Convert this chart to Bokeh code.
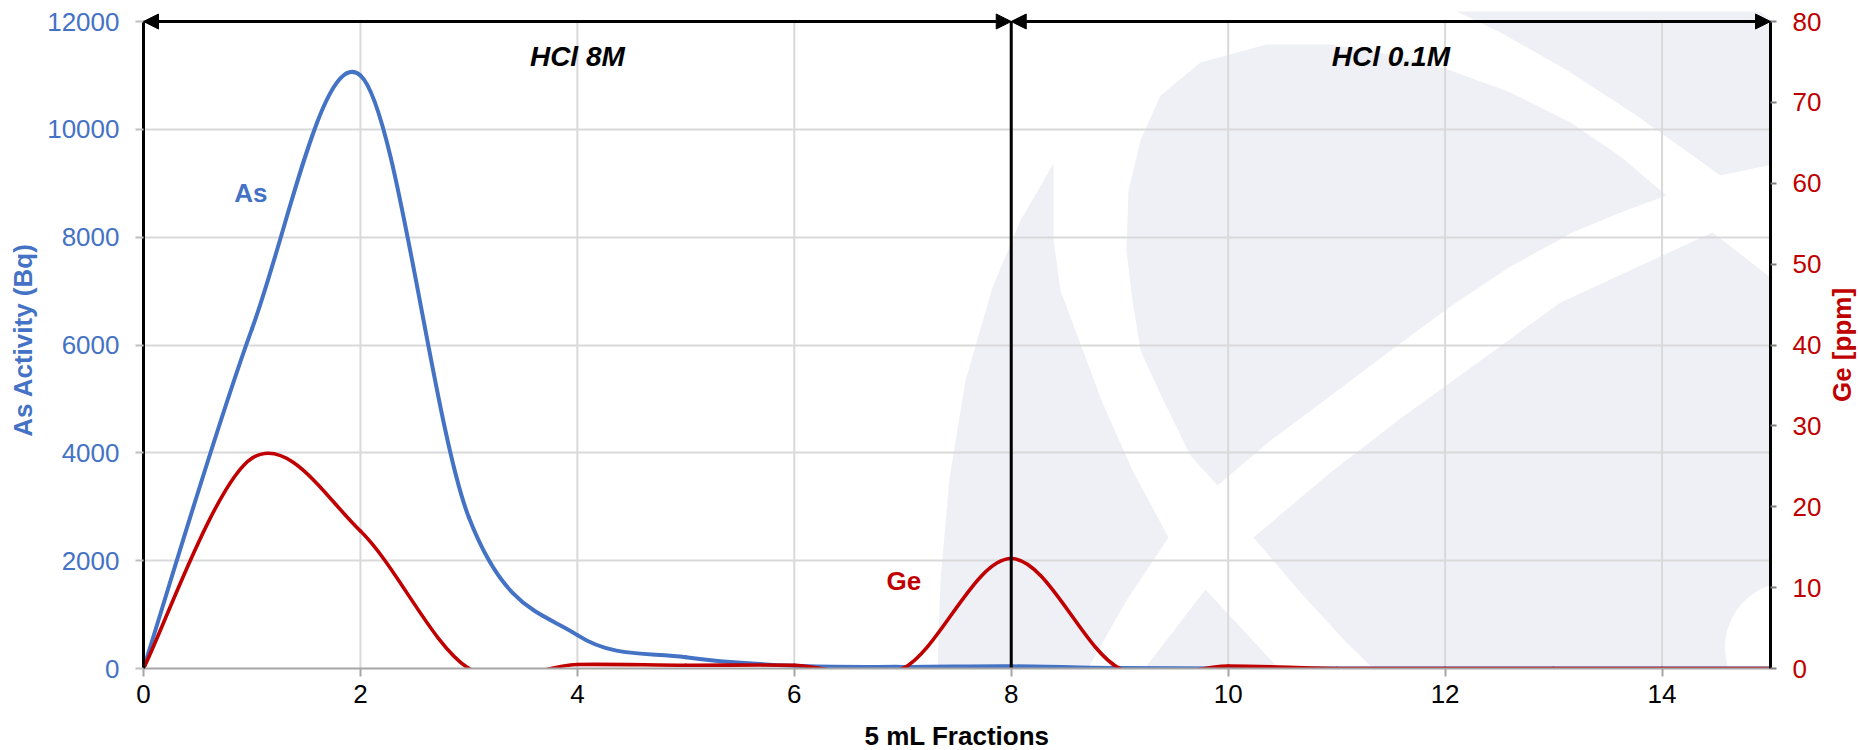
import math
from bokeh.plotting import figure
from bokeh.models import (Range1d, LinearAxis, FixedTicker, Arrow, NormalHead, Label)
from bokeh.embed import file_html
from bokeh.resources import INLINE

# ---------------- data ----------------
fractions = [0, 1, 2, 3, 4, 5, 6, 7, 8, 9, 10, 11, 12, 13, 14, 15]
as_activity = [0, 6300, 11000, 2800, 620, 210, 50, 30, 40, 10, 0, 0, 0, 0, 0, 0]
ge_ppm = [0, 26, 17, 0, 0.5, 0.4, 0.4, 0, 13.6, 0, 0.3, 0, 0, 0, 0, 0]

x_ticks = [0, 2, 4, 6, 8, 10, 12, 14]
as_ticks = [0, 2000, 4000, 6000, 8000, 10000, 12000]
ge_ticks = [0, 10, 20, 30, 40, 50, 60, 70, 80]
as_max = 12000
ge_max = 80
x_max = 15

phase_names = ["HCl 8M", "HCl 0.1M"]
phase_start = [0, 8]
phase_end = [8, 15]

BLUE = "#4472C4"
RED = "#C00000"
FONT = "Liberation Sans"


def smooth_segments(xs, ys):
    """Excel-like smoothed line: cubic Bezier segments (Catmull-Rom control points)."""
    n = len(xs)
    out = dict(x0=[], y0=[], x1=[], y1=[], cx0=[], cy0=[], cx1=[], cy1=[])
    for i in range(n - 1):
        ip = i - 1 if i > 0 else i
        inx = i + 2 if i + 2 < n else i + 1
        out["x0"].append(xs[i]); out["y0"].append(ys[i])
        out["x1"].append(xs[i + 1]); out["y1"].append(ys[i + 1])
        out["cx0"].append(xs[i] + (xs[i + 1] - xs[ip]) / 6.0)
        out["cy0"].append(ys[i] + (ys[i + 1] - ys[ip]) / 6.0)
        out["cx1"].append(xs[i + 1] - (xs[inx] - xs[i]) / 6.0)
        out["cy1"].append(ys[i + 1] - (ys[inx] - ys[i]) / 6.0)
    return out


# ---------------- figure ----------------
W, H = 1858, 750
FL, FR, FT, FB = 143, 1770, 21, 668   # pixel box of the 0..15 x 0..12000 area
PAD = 10                               # headroom above 12000 so arrow heads show
top_scale = (FB - FT + PAD) / (FB - FT)

p = figure(width=W, height=H,
           x_range=Range1d(0, x_max), y_range=Range1d(0, as_max * top_scale),
           output_backend="svg", toolbar_location=None,
           min_border_left=FL, min_border_right=W - FR,
           min_border_top=FT - PAD, min_border_bottom=H - FB)
p.extra_y_ranges = {"ge": Range1d(0, ge_max * top_scale)}
p.outline_line_color = None
p.background_fill_color = "white"
p.border_fill_color = "white"


# ------------- background watermark (decorative logo) -------------
def px2x(px):
    return (px - FL) / (FR - FL) * x_max


def px2y(py):
    return (FB - py) / (FB - FT) * as_max


logo_shapes = [
    # left leaf
    [(1053, 163), (1020, 220), (992, 287), (965, 380), (949, 478), (940, 580), (937, 670),
     (940, 760), (1040, 800), (1054, 750), (1088, 667), (1126, 600), (1168, 537),
     (1132, 470), (1101, 400), (1075, 330), (1060, 290), (1053, 239)],
    # central lens
    [(1217, 485), (1190, 455), (1163, 400), (1140, 350), (1132, 300), (1126, 250),
     (1128, 190), (1140, 140), (1160, 95), (1200, 62), (1266, 44), (1330, 44), (1400, 56),
     (1450, 70), (1510, 92), (1570, 122), (1620, 156), (1666, 195), (1620, 212),
     (1572, 232), (1510, 266), (1450, 306), (1390, 350), (1328, 397), (1270, 440)],
    # top arc
    [(1380, -20), (1433, 0), (1500, 32), (1567, 70), (1633, 113), (1720, 175), (1790, 160),
     (1858, 147), (1900, 140), (1900, 60), (1858, 80), (1800, 40), (1767, 17), (1720, -20)],
    # right region
    [(1253, 537), (1330, 472), (1400, 418), (1450, 382), (1560, 302), (1712, 232),
     (1770, 277), (1858, 370), (1900, 400), (1900, 800), (1500, 800), (1455, 750),
     (1400, 695), (1344, 640), (1300, 592)],
    # bottom triangle
    [(1205, 589), (1145, 667), (1109, 750), (1090, 800), (1400, 800), (1360, 750),
     (1268, 657)],
]
p.patches(xs=[[px2x(a) for a, b in s] for s in logo_shapes],
          ys=[[px2y(b) for a, b in s] for s in logo_shapes],
          fill_color="#EFEFF6", line_color=None, level="image")
p.scatter(x=[px2x(1790)], y=[px2y(647)], size=131, marker="circle",
          fill_color="white", line_color=None, level="image")

# ---------------- grids ----------------
p.xgrid.visible = False
p.segment(x0=x_ticks[1:], y0=[0] * (len(x_ticks) - 1), x1=x_ticks[1:],
          y1=[as_max] * (len(x_ticks) - 1), line_color="#D9D9D9", line_width=2,
          level="underlay")
p.ygrid.ticker = FixedTicker(ticks=as_ticks)
p.ygrid.grid_line_color = "#D9D9D9"
p.ygrid.grid_line_width = 2

# ---------------- axes ----------------
xa = p.xaxis[0]
xa.ticker = FixedTicker(ticks=x_ticks)
xa.major_label_text_font = FONT
xa.major_label_text_font_size = "26px"
xa.major_label_text_color = "black"
xa.major_label_standoff = 8
xa.axis_line_color = "#A6A6A6"
xa.axis_line_width = 2
xa.major_tick_line_color = "#A6A6A6"
xa.major_tick_line_width = 2
xa.major_tick_out = 8
xa.major_tick_in = 0
xa.minor_tick_line_color = None

# x axis title, placed in the bottom panel
p.add_layout(Label(x=x_max / 2, y=px2y(735), text="5 mL Fractions", text_font=FONT,
                   text_font_style="bold", text_font_size="26px", text_color="black",
                   text_align="center", text_baseline="middle"), "below")

ya = p.yaxis[0]
ya.ticker = FixedTicker(ticks=as_ticks)
ya.bounds = (0, as_max)
ya.axis_label = "As Activity (Bq)"
ya.axis_label_text_font = FONT
ya.axis_label_text_font_style = "bold"
ya.axis_label_text_font_size = "26px"
ya.axis_label_text_color = BLUE
ya.axis_label_standoff = 6
ya.major_label_text_font = FONT
ya.major_label_text_font_size = "26px"
ya.major_label_text_color = BLUE
ya.major_label_standoff = 16
ya.axis_line_color = "black"
ya.axis_line_width = 3
ya.major_tick_line_color = "#BFBFBF"
ya.major_tick_line_width = 2
ya.major_tick_out = 8
ya.major_tick_in = 0
ya.minor_tick_line_color = None

# right Ge axis (numbers)
ra = LinearAxis(y_range_name="ge", ticker=FixedTicker(ticks=ge_ticks))
ra.bounds = (0, ge_max)
ra.major_label_text_font = FONT
ra.major_label_text_font_size = "26px"
ra.major_label_text_color = RED
ra.major_label_standoff = 16
ra.axis_line_color = "black"
ra.axis_line_width = 3
ra.major_tick_line_color = "#808080"
ra.major_tick_line_width = 2
ra.major_tick_out = 6
ra.major_tick_in = 0
ra.minor_tick_line_color = None
p.add_layout(ra, "right")

# right axis title, placed in the right-hand panel (reads bottom-to-top)
p.add_layout(Label(x=px2x(1841), y=ge_max / 2, y_range_name="ge", text="Ge [ppm]",
                   angle=math.pi / 2, text_font=FONT, text_font_style="bold",
                   text_font_size="26px", text_color=RED, text_align="center",
                   text_baseline="middle"), "right")

# ---------------- series ----------------
as_seg = smooth_segments(fractions, as_activity)
p.bezier(line_color=BLUE, line_width=4, line_cap="round", **as_seg)
ge_seg = smooth_segments(fractions, ge_ppm)
p.bezier(line_color=RED, line_width=3.6, line_cap="round", y_range_name="ge", **ge_seg)

# ---------------- phase markers ----------------
p.segment(x0=[phase_start[1]], y0=[0], x1=[phase_start[1]], y1=[as_max],
          line_color="black", line_width=3)
for s, e, name in zip(phase_start, phase_end, phase_names):
    p.add_layout(Arrow(start=NormalHead(size=15, fill_color="black", line_color="black"),
                       end=NormalHead(size=15, fill_color="black", line_color="black"),
                       x_start=s, x_end=e, y_start=as_max, y_end=as_max,
                       line_color="black", line_width=3))
    p.add_layout(Label(x=(s + e) / 2.0, y=11360, text=name, text_font=FONT,
                       text_font_style="bold italic", text_font_size="28px",
                       text_color="black", text_align="center", text_baseline="middle"))

p.add_layout(Label(x=0.99, y=8810, text="As", text_font=FONT, text_font_style="bold",
                   text_font_size="26px", text_color=BLUE, text_align="center",
                   text_baseline="middle"))
p.add_layout(Label(x=7.01, y=1614, text="Ge", text_font=FONT, text_font_style="bold",
                   text_font_size="26px", text_color=RED, text_align="center",
                   text_baseline="middle"))

open("out.html", "w").write(file_html(p, INLINE))
